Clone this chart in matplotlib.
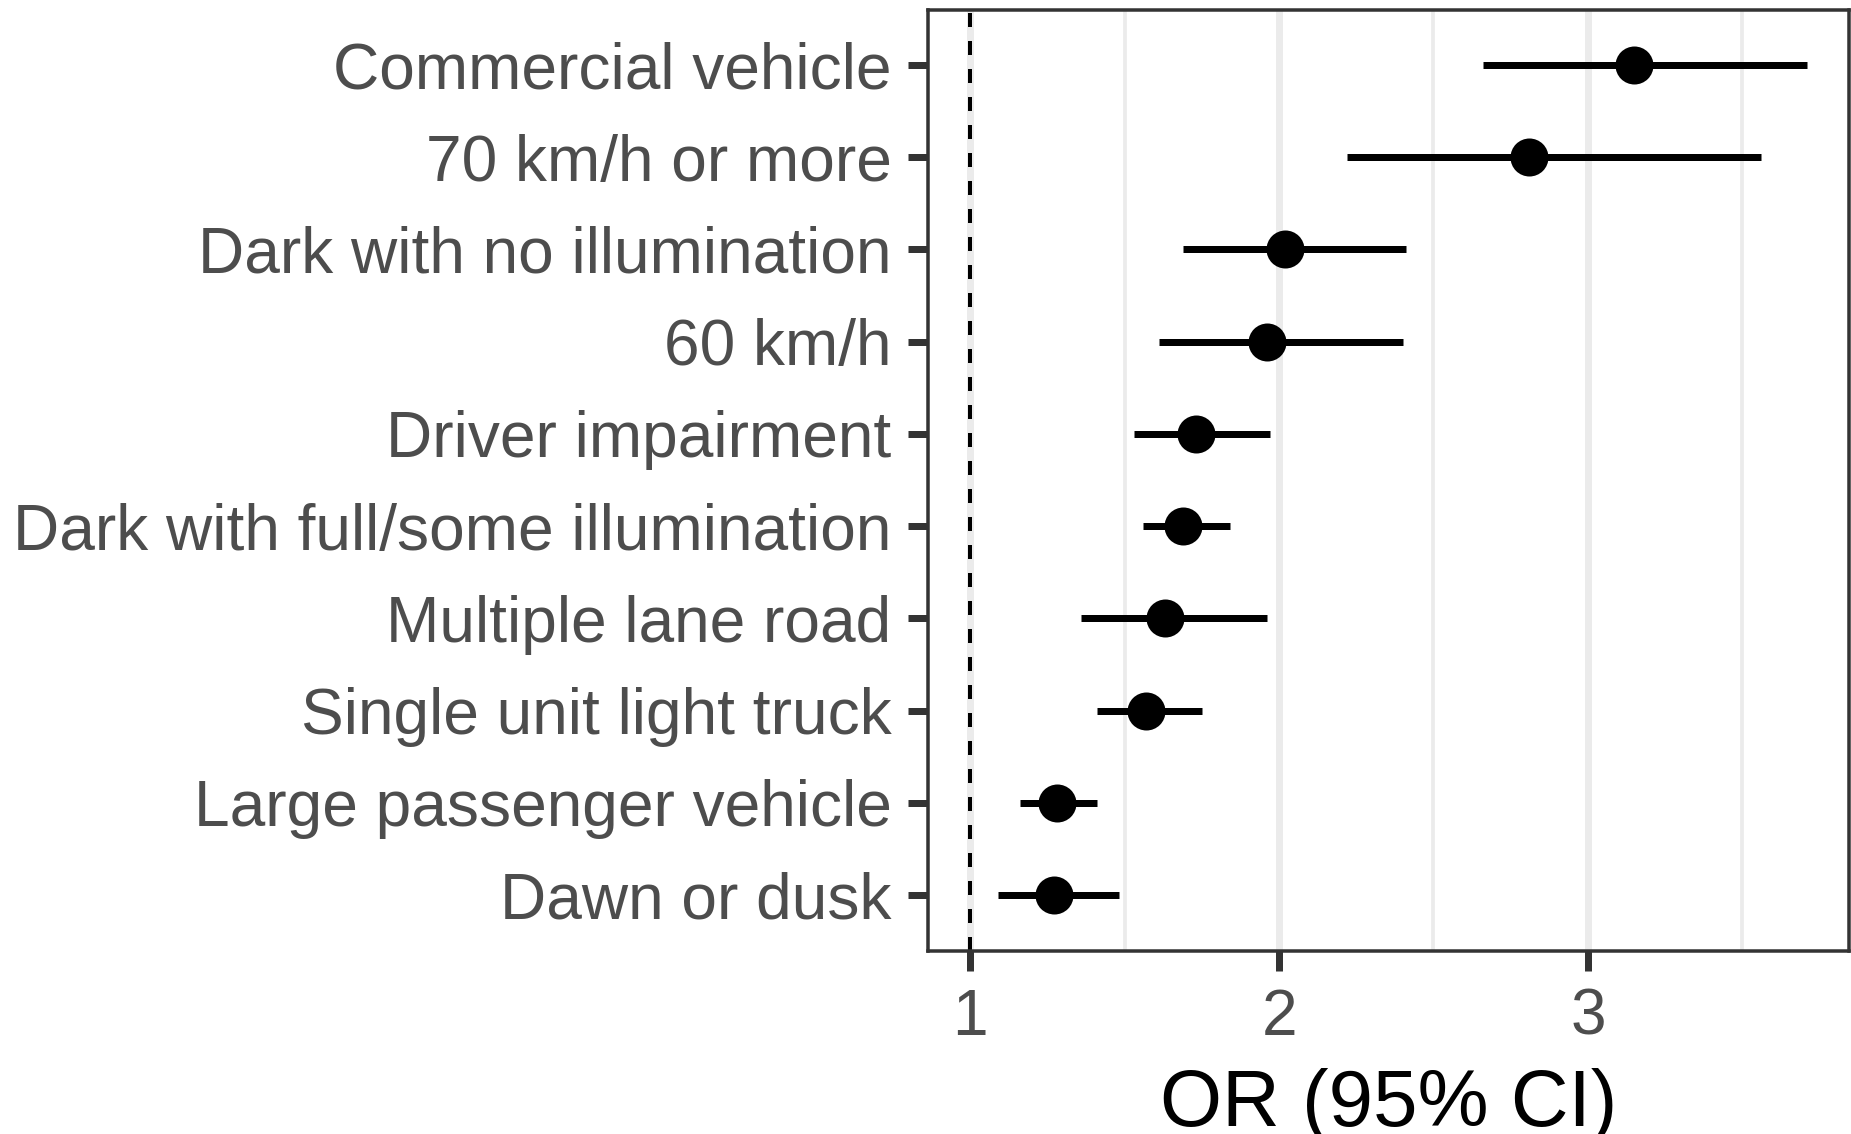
import matplotlib
matplotlib.use("Agg")
import matplotlib.pyplot as plt
import numpy as np

# Odds ratios with 95% confidence intervals, listed top to bottom
factors = [
    "Commercial vehicle",
    "70 km/h or more",
    "Dark with no illumination",
    "60 km/h",
    "Driver impairment",
    "Dark with full/some illumination",
    "Multiple lane road",
    "Single unit light truck",
    "Large passenger vehicle",
    "Dawn or dusk",
]
odds_ratio = [3.15, 2.81, 2.02, 1.96, 1.73, 1.69, 1.63, 1.57, 1.28, 1.27]
ci_lower = [2.66, 2.22, 1.69, 1.61, 1.53, 1.56, 1.36, 1.41, 1.16, 1.09]
ci_upper = [3.71, 3.56, 2.41, 2.40, 1.97, 1.84, 1.96, 1.75, 1.41, 1.48]
reference_or = 1.0
x_ticks = [1, 2, 3]
x_minor = [1.5, 2.5, 3.5]

plt.rcParams["font.family"] = ["Liberation Sans", "DejaVu Sans"]

PX = 72.0 / 100.0  # points per pixel at dpi 100

fig = plt.figure(figsize=(18.51, 11.34), dpi=100)
ax = fig.add_axes([0.5016, 0.1618, 0.4973, 0.8298])

n = len(factors)
ypos = np.arange(n, 0, -1)

# grid
ax.set_xticks(x_ticks)
ax.set_xticks(x_minor, minor=True)
ax.grid(which="major", axis="x", color="#EBEBEB", lw=7 * PX, zorder=0)
ax.grid(which="minor", axis="x", color="#EBEBEB", lw=3.8 * PX, zorder=0)
ax.grid(which="major", axis="y", visible=False)
ax.set_axisbelow(True)

# reference line at OR = 1
ax.axvline(reference_or, color="black", lw=4 * PX, linestyle=(0, (3.5, 3.5)), zorder=2)

# confidence intervals and point estimates
ax.hlines(ypos, ci_lower, ci_upper, color="black", lw=7 * PX, zorder=3)
ax.plot(odds_ratio, ypos, "o", color="black", ms=38 * PX, mew=0, zorder=4)

# limits with 5% expansion on the continuous axis
lo = min(reference_or, min(ci_lower))
hi = max(ci_upper)
span = hi - lo
ax.set_xlim(lo - 0.05 * span, hi + 0.05 * span)
ax.set_ylim(0.4, n + 0.6)

ax.set_yticks(ypos)
ax.set_yticklabels(factors)
ax.set_xticklabels([str(t) for t in x_ticks])

for s in ax.spines.values():
    s.set_color("#333333")
    s.set_linewidth(3.5 * PX)

ax.tick_params(axis="both", which="major", length=20 * PX, width=7 * PX,
               color="#333333", labelcolor="#4D4D4D", labelsize=46.1, pad=17 * PX)
ax.tick_params(axis="both", which="minor", length=0)

ax.set_xlabel("OR (95% CI)", fontsize=57.5, color="black", labelpad=20 * PX)

fig.savefig("out.png", dpi=100, facecolor="white")
